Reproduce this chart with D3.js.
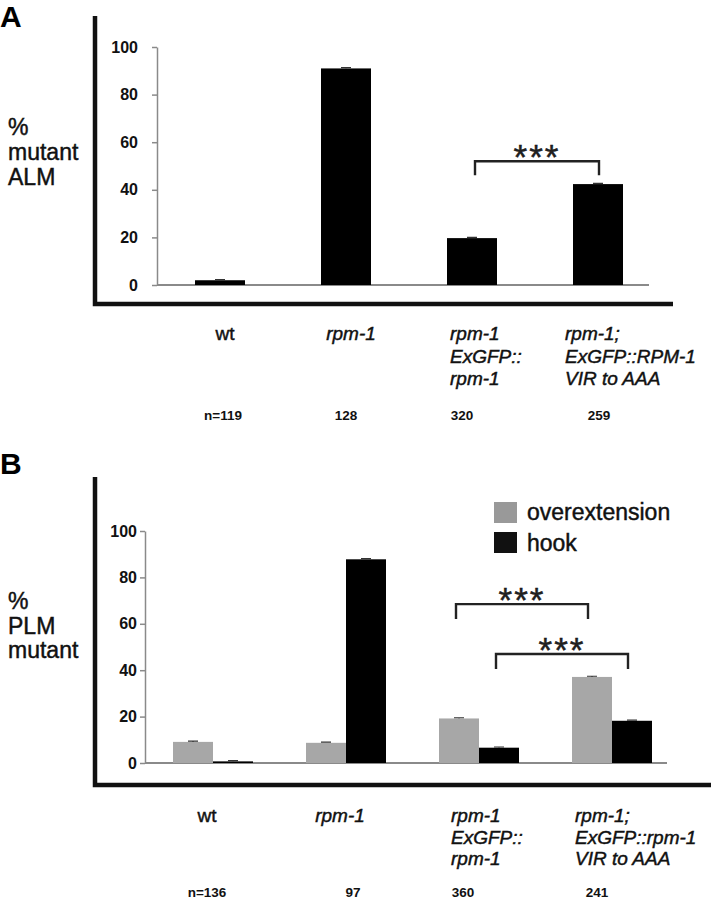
<!DOCTYPE html>
<html>
<head>
<meta charset="utf-8">
<script src="https://cdn.jsdelivr.net/npm/d3@7"></script>
<style>
  body { margin: 0; background: #fff; }
  svg { display: block; font-family: "Liberation Sans", Arial, Helvetica, sans-serif; }
  .tick text { font-weight: bold; fill: #111; }
  .med { stroke: #111; stroke-width: 0.45px; }
</style>
</head>
<body>
<svg id="fig" width="711" height="899"></svg>
<script>
// ---- data ----
var categories = ["wt", "rpm-1", "rpm-1 ExGFP::rpm-1", "rpm-1; ExGFP::rpm-1 VIR to AAA"];
var labelLinesA = [["wt"], ["rpm-1"], ["rpm-1", "ExGFP::", "rpm-1"], ["rpm-1;", "ExGFP::RPM-1", "VIR to AAA"]];
var labelLinesB = [["wt"], ["rpm-1"], ["rpm-1", "ExGFP::", "rpm-1"], ["rpm-1;", "ExGFP::rpm-1", "VIR to AAA"]];
var countsA = ["n=119", "128", "320", "259"];
var countsB = ["n=136", "97", "360", "241"];
var alm = [2, 91, 19.7, 42.4];
var almErr = [0.3, 0.3, 0.3, 0.3];
var overextension = [9.1, 8.7, 19.2, 37.1];
var hook = [0.7, 87.8, 6.6, 18.2];
var plmErr = [0.3, 0.3, 0.3, 0.3];
var series = ["overextension", "hook"];
var yTicks = [0, 20, 40, 60, 80, 100];
// significance brackets: [category i, series i, category j, series j, level]
var sigA = [[2, null, 3, null, 52]];
var sigB = [[2, 0, 3, 0, 68.5], [2, 1, 3, 1, 47]];

var colorsBar = { overextension: "#a7a7a7", hook: "#000000" };
var svg = d3.select("#fig");
var labelDx = [0, 0, -22, -33];

// ================= panel A =================
var xA = d3.scaleBand().domain(categories).range([157, 661]).padding(0);
var yA = d3.scaleLinear().domain([0, 100]).range([285, 47]);
var barWA = 50;
var cA = function(i) { return xA(categories[i]) + xA.bandwidth() / 2; };

svg.append("text").attr("x", 0).attr("y", 27).attr("font-size", 30)
    .attr("font-weight", "bold").text("A");

svg.append("path").attr("d", "M95,16V304H673")
    .attr("fill", "none").attr("stroke", "#111").attr("stroke-width", 4.5);

var axA = svg.append("g").attr("transform", "translate(157,0)")
    .call(d3.axisLeft(yA).tickValues(yTicks).tickSize(5).tickSizeOuter(0).tickPadding(14));
axA.selectAll("path,line").attr("stroke", "#8a8a8a").attr("stroke-width", 1.5);
axA.selectAll("text").attr("font-size", 16);

svg.append("line").attr("x1", 157).attr("x2", 649).attr("y1", yA(0)).attr("y2", yA(0))
    .attr("stroke", "#8a8a8a").attr("stroke-width", 2);

["%", "mutant", "ALM"].forEach(function(t, i) {
    svg.append("text").attr("class", "med").attr("x", 8).attr("y", 135 + i * 25).attr("font-size", 23)
        .attr("fill", "#111").text(t);
});

svg.selectAll(".barA").data(alm).enter().append("rect")
    .attr("class", "barA")
    .attr("x", function(d, i) { return cA(i) - barWA / 2; })
    .attr("y", function(d) { return yA(d); })
    .attr("width", barWA)
    .attr("height", function(d) { return yA(0) - yA(d); })
    .attr("fill", "#000");

svg.selectAll(".errA").data(alm).enter().append("path")
    .attr("class", "errA")
    .attr("d", function(d, i) {
        var x = cA(i), t = yA(d + almErr[i]);
        return "M" + (x - 5) + "," + t + "H" + (x + 5) + "M" + x + "," + t + "V" + yA(d);
    })
    .attr("stroke", "#333").attr("stroke-width", 1.2);

function bracket(x1, x2, yTop, drop) {
    svg.append("path")
        .attr("d", "M" + x1 + "," + (yTop + drop) + "V" + yTop + "H" + x2 + "V" + (yTop + drop))
        .attr("fill", "none").attr("stroke", "#222").attr("stroke-width", 2.4);
    svg.append("text").attr("class", "med").attr("x", (x1 + x2) / 2).attr("y", yTop + 8)
        .attr("text-anchor", "middle").attr("font-size", 35)
        .attr("letter-spacing", 2).attr("fill", "#222").text("***");
}
sigA.forEach(function(s) {
    bracket(cA(s[0]) + 3, cA(s[2]) + 1, yA(s[4]), 14);
});

labelLinesA.forEach(function(lines, i) {
    var multi = lines.length > 1;
    lines.forEach(function(t, k) {
        svg.append("text").attr("class", "med")
            .attr("x", multi ? cA(i) + labelDx[i] : cA(i) + 5)
            .attr("y", 340 + k * 22.5)
            .attr("text-anchor", multi ? "start" : "middle")
            .attr("font-size", 19)
            .attr("font-style", i === 0 ? "normal" : "italic")
            .attr("fill", "#111").text(t);
    });
});
svg.selectAll(".nA").data(countsA).enter().append("text")
    .attr("class", "nA")
    .attr("x", function(d, i) { return cA(i) + [3, 0, -10, 1][i]; })
    .attr("y", 420).attr("text-anchor", "middle")
    .attr("font-size", 13.5).attr("font-weight", "bold").attr("fill", "#111")
    .text(function(d) { return d; });

// ================= panel B =================
var xB = d3.scaleBand().domain(categories).range([146.5, 678.5]).padding(0);
var xB1 = d3.scaleBand().domain(series).range([-40, 40]).padding(0);
var yB = d3.scaleLinear().domain([0, 100]).range([763, 531]);
var cB = function(i) { return xB(categories[i]) + xB.bandwidth() / 2; };

svg.append("text").attr("x", 0).attr("y", 474).attr("font-size", 30)
    .attr("font-weight", "bold").text("B");

svg.append("path").attr("d", "M95,477V785H711")
    .attr("fill", "none").attr("stroke", "#111").attr("stroke-width", 4.5);

var axB = svg.append("g").attr("transform", "translate(145,0)")
    .call(d3.axisLeft(yB).tickValues(yTicks).tickSize(5).tickSizeOuter(0).tickPadding(3));
axB.selectAll("path,line").attr("stroke", "#8a8a8a").attr("stroke-width", 1.5);
axB.selectAll("text").attr("font-size", 16);

svg.append("line").attr("x1", 145).attr("x2", 667).attr("y1", yB(0)).attr("y2", yB(0))
    .attr("stroke", "#8a8a8a").attr("stroke-width", 2);

["%", "PLM", "mutant"].forEach(function(t, i) {
    svg.append("text").attr("class", "med").attr("x", 8).attr("y", 609 + i * 24.5).attr("font-size", 23)
        .attr("fill", "#111").text(t);
});

var plm = [overextension, hook];
series.forEach(function(s, si) {
    svg.selectAll(".bar_" + s).data(plm[si]).enter().append("rect")
        .attr("class", "bar_" + s)
        .attr("x", function(d, i) { return cB(i) + xB1(s); })
        .attr("y", function(d) { return yB(d); })
        .attr("width", xB1.bandwidth())
        .attr("height", function(d) { return yB(0) - yB(d); })
        .attr("fill", colorsBar[s]);
    svg.selectAll(".err_" + s).data(plm[si]).enter().append("path")
        .attr("class", "err_" + s)
        .attr("d", function(d, i) {
            var x = cB(i) + xB1(s) + xB1.bandwidth() / 2, t = yB(d + plmErr[i]);
            return "M" + (x - 5) + "," + t + "H" + (x + 5) + "M" + x + "," + t + "V" + yB(d);
        })
        .attr("stroke", "#333").attr("stroke-width", 1.2);
});

sigB.forEach(function(s) {
    var x1 = cB(s[0]) + xB1(series[s[1]]) + xB1.bandwidth() / 2;
    var x2 = cB(s[2]) + xB1(series[s[3]]) + xB1.bandwidth() / 2;
    bracket(x1 - 3, x2 - 4, yB(s[4]), 15);
});

// legend
series.forEach(function(s, i) {
    svg.append("rect").attr("x", 494).attr("y", 502 + i * 30).attr("width", 23).attr("height", 21)
        .attr("fill", s === "hook" ? "#111" : "#999");
    svg.append("text").attr("class", "med").attr("x", 527).attr("y", 520 + i * 31).attr("font-size", 23)
        .attr("fill", "#111").text(s);
});

labelLinesB.forEach(function(lines, i) {
    var multi = lines.length > 1;
    lines.forEach(function(t, k) {
        svg.append("text").attr("class", "med")
            .attr("x", multi ? cB(i) + [0, 0, -28, -37][i] : cB(i) - 6)
            .attr("y", 822 + k * 21.5)
            .attr("text-anchor", multi ? "start" : "middle")
            .attr("font-size", 19)
            .attr("font-style", i === 0 ? "normal" : "italic")
            .attr("fill", "#111").text(t);
    });
});
svg.selectAll(".nB").data(countsB).enter().append("text")
    .attr("class", "nB")
    .attr("x", function(d, i) { return cB(i) + [-6, 7, -16, -15][i]; })
    .attr("y", 897).attr("text-anchor", "middle")
    .attr("font-size", 13.5).attr("font-weight", "bold").attr("fill", "#111")
    .text(function(d) { return d; });
</script>
</body>
</html>
